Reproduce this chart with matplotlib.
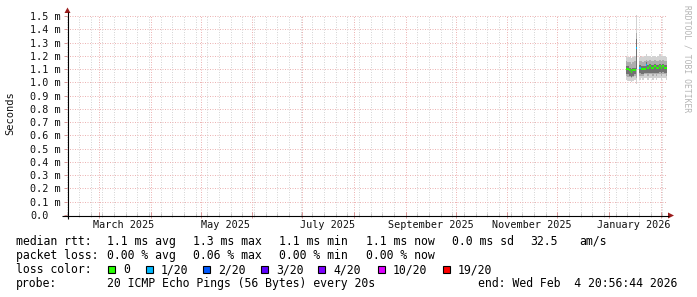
import matplotlib
matplotlib.use("Agg")
import matplotlib.pyplot as plt
import matplotlib.dates as mdates
import matplotlib.transforms as mtransforms
from matplotlib.ticker import NullFormatter
from matplotlib.patches import Rectangle, Polygon
import numpy as np
from datetime import datetime

# ---------------- data ----------------
days = ["2026-01-11", "2026-01-12", "2026-01-13", "2026-01-14", "2026-01-15",
        "2026-01-16", "2026-01-17", "2026-01-18", "2026-01-19", "2026-01-20",
        "2026-01-21", "2026-01-22", "2026-01-23", "2026-01-24", "2026-01-25",
        "2026-01-26", "2026-01-27", "2026-01-28", "2026-01-29", "2026-01-30",
        "2026-01-31", "2026-02-01", "2026-02-02", "2026-02-03", "2026-02-04"]
nan = float("nan")
median_ms = [1.10, 1.10, 1.09, 1.08, 1.09, 1.09, 1.26, nan, 1.11, 1.10,
             1.10, 1.10, 1.13, 1.11, 1.12, 1.11, 1.11, 1.12, 1.11, 1.11,
             1.12, 1.11, 1.12, 1.11, 1.11]
loss_20 = [0, 0, 0, 0, 0, 0, 1, 0, 1, 0, 0, 0, 1, 0, 0, 0, 0, 0, 0, 0, 0, 0, 0, 0, 0]
outer_lo = [1.02, 1.01, 1.01, 1.00, 1.01, 1.02, 0.99, nan, 1.02, 1.03,
            1.02, 1.03, 1.03, 1.02, 1.03, 1.03, 1.02, 1.03, 1.02, 1.03,
            1.03, 1.02, 1.03, 1.03, 1.02]
outer_hi = [1.20, 1.19, 1.19, 1.18, 1.19, 1.20, 1.51, nan, 1.19, 1.20,
            1.19, 1.20, 1.21, 1.20, 1.20, 1.19, 1.20, 1.20, 1.19, 1.20,
            1.21, 1.20, 1.20, 1.20, 1.19]
mid_lo = [1.05, 1.04, 1.04, 1.03, 1.04, 1.05, 1.03, nan, 1.05, 1.05,
          1.05, 1.06, 1.06, 1.05, 1.06, 1.06, 1.05, 1.06, 1.05, 1.06,
          1.06, 1.05, 1.06, 1.06, 1.05]
mid_hi = [1.16, 1.15, 1.15, 1.14, 1.15, 1.16, 1.37, nan, 1.16, 1.16,
          1.15, 1.16, 1.17, 1.16, 1.17, 1.16, 1.16, 1.17, 1.16, 1.16,
          1.17, 1.16, 1.17, 1.16, 1.16]
inner_lo = [1.06, 1.06, 1.05, 1.04, 1.05, 1.06, 1.10, nan, 1.07, 1.06,
            1.06, 1.07, 1.07, 1.07, 1.07, 1.07, 1.07, 1.07, 1.07, 1.07,
            1.08, 1.07, 1.08, 1.07, 1.07]
inner_hi = [1.12, 1.12, 1.11, 1.10, 1.11, 1.11, 1.33, nan, 1.13, 1.12,
            1.12, 1.12, 1.15, 1.13, 1.14, 1.13, 1.13, 1.14, 1.13, 1.13,
            1.14, 1.13, 1.14, 1.13, 1.13]

y_ticks_ms = [0.0, 0.1, 0.2, 0.3, 0.4, 0.5, 0.6, 0.7, 0.8, 0.9, 1.0, 1.1, 1.2, 1.3, 1.4, 1.5]
y_tick_labels = ["0.0", "0.1 m", "0.2 m", "0.3 m", "0.4 m", "0.5 m", "0.6 m", "0.7 m",
                 "0.8 m", "0.9 m", "1.0 m", "1.1 m", "1.2 m", "1.3 m", "1.4 m", "1.5 m"]
x_label_months = ["2025-03-16", "2025-05-16", "2025-07-16", "2025-09-16", "2025-11-16", "2026-01-16"]
x_label_texts = ["March 2025", "May 2025", "July 2025", "September 2025", "November 2025", "January 2026"]
end_time = "2026-02-04 20:56:44"
span_days = 360
y_label = "Seconds"
watermark = "RRDTOOL / TOBI OETIKER"

loss_levels = [0, 1, 2, 3, 4, 10, 19]
loss_labels = ["0", "1/20", "2/20", "3/20", "4/20", "10/20", "19/20"]
loss_colors = ["#26ff00", "#00b8ff", "#0059ff", "#5e00ff", "#7e00ff", "#dd00ff", "#ff0000"]

row_titles = ["median rtt:", "packet loss:", "loss color:", "probe:"]
stats_rtt = ["1.1 ms avg", "1.3 ms max", "1.1 ms min", "1.1 ms now", "0.0 ms sd", "32.5", "am/s"]
stats_loss = ["0.00 % avg", "0.06 % max", "0.00 % min", "0.00 % now"]
probe_text = "20 ICMP Echo Pings (56 Bytes) every 20s"
end_text = "end: Wed Feb  4 20:56:44 2026"

# ---------------- layout ----------------
W, H = 697, 297
PX0, PX1, PY0, PY1 = 67, 667, 15, 215
MONO = "DejaVu Sans Mono"
AX_FS = 7.3
LEG_FS = 8.3

fig = plt.figure(figsize=(W / 100, H / 100), dpi=100)
fig.patch.set_facecolor("white")
ax = fig.add_axes([PX0 / W, 1 - PY1 / H, (PX1 - PX0) / W, (PY1 - PY0) / H])
ax.set_facecolor("white")
ov = fig.add_axes([0, 0, 1, 1])
ov.set_xlim(0, W)
ov.set_ylim(H, 0)
ov.axis("off")
ov.patch.set_alpha(0)
ov.set_zorder(5)

t_end = mdates.date2num(datetime.strptime(end_time, "%Y-%m-%d %H:%M:%S"))
ax.set_xlim(t_end - span_days, t_end)
ax.set_ylim(0, 1.5 * 200 / 199)

# ---------------- smoke + median ----------------
x = np.array([mdates.datestr2num(d) for d in days])
layers = [(outer_lo, outer_hi, "#d2d2d2"),
          (mid_lo, mid_hi, "#adadad"),
          (inner_lo, inner_hi, "#727272")]
for lo, hi, col in layers:
    lo = np.array(lo); hi = np.array(hi)
    ok = ~np.isnan(lo)
    ax.bar(x[ok], (hi - lo)[ok], bottom=lo[ok], width=1.0, align="edge",
           color=col, linewidth=0, zorder=2)

cmap = dict(zip(loss_levels, loss_colors))
med = np.array(median_ms)
okm = ~np.isnan(med)
ax.hlines(med[okm], x[okm], x[okm] + 1, colors=[cmap[l] for l, o in zip(loss_20, okm) if o],
          linewidth=1.4, zorder=4)

# ---------------- grid / ticks ----------------
ax.xaxis.set_major_locator(mdates.MonthLocator())
ax.xaxis.set_minor_locator(mdates.WeekdayLocator(byweekday=mdates.MO))
ax.xaxis.set_major_formatter(NullFormatter())
ax.xaxis.set_minor_formatter(NullFormatter())
ax.set_yticks(y_ticks_ms)
ax.set_yticklabels(y_tick_labels, fontfamily=MONO, fontsize=AX_FS, color="#111111")
for lbl in ax.get_yticklabels():
    lbl.set_horizontalalignment("left")
ax.grid(which="major", axis="both", color="#ecb4b4", linestyle=(0, (1, 1.5)), linewidth=0.72)
ax.grid(which="minor", axis="x", color="#d6d6d6", linestyle=(0, (1, 1.5)), linewidth=0.72)
ax.set_axisbelow(True)
ax.tick_params(axis="y", which="major", direction="out", length=2.5, width=0.72,
               color="#d89a9a", pad=24.2)
ax.tick_params(axis="x", which="major", direction="inout", length=4, width=0.72, color="#d89a9a")
ax.tick_params(axis="x", which="minor", direction="inout", length=3, width=0.72, color="#c4c4c4")
for s in ax.spines.values():
    s.set_visible(False)

# x labels (centered mid-month)
bt = mtransforms.blended_transform_factory(ax.transData, ov.transData)
for m, t in zip(x_label_months, x_label_texts):
    ax.text(mdates.datestr2num(m), 228, t, transform=bt, ha="center", va="baseline",
            fontfamily=MONO, fontsize=AX_FS, color="#111111", clip_on=False)

# axis lines and arrows
ov.plot([62, 669], [215.5, 215.5], color="black", lw=0.8, solid_capstyle="butt")
ov.plot([67.5, 67.5], [219, 12], color="black", lw=0.8, solid_capstyle="butt")
ov.add_patch(Polygon([[668, 212.5], [674, 215.5], [668, 218.5]], closed=True,
                     facecolor="#9b1c1c", edgecolor="none"))
ov.add_patch(Polygon([[64.5, 13], [67.5, 7.5], [70.5, 13]], closed=True,
                     facecolor="#9b1c1c", edgecolor="none"))

# y label and watermark
ov.text(10.5, 113, y_label, rotation=90, ha="center", va="center",
        fontfamily=MONO, fontsize=7.5, color="#111111")
ov.text(687, 5, watermark, rotation=-90, ha="center", va="top",
        fontfamily=MONO, fontsize=5.8, color="#b4b4b4")

# ---------------- legend block ----------------
row_y = [245, 259, 273.3, 287.3]
col_x = [107.3, 193.3, 279.3, 366, 451.7, 530.7, 579.3]
for title, y in zip(row_titles, row_y):
    ov.text(16, y, title, ha="left", va="baseline", fontfamily=MONO, fontsize=LEG_FS, color="black")
for s, cx in zip(stats_rtt, col_x):
    ov.text(cx, row_y[0], s, ha="left", va="baseline", fontfamily=MONO, fontsize=LEG_FS, color="black")
for s, cx in zip(stats_loss, col_x):
    ov.text(cx, row_y[1], s, ha="left", va="baseline", fontfamily=MONO, fontsize=LEG_FS, color="black")
box_x = [108, 145.7, 203.3, 261, 318.3, 377.7, 442.7]
for bx, lab, col in zip(box_x, loss_labels, loss_colors):
    ov.add_patch(Rectangle((bx, 265.5), 7, 7.5, facecolor=col, edgecolor="black", lw=0.8))
    ov.text(bx + 15.3, row_y[2], lab, ha="left", va="baseline", fontfamily=MONO,
            fontsize=LEG_FS, color="black")
ov.text(107.3, row_y[3], probe_text, ha="left", va="baseline", fontfamily=MONO,
        fontsize=LEG_FS, color="black")
ov.text(478.3, row_y[3], end_text, ha="left", va="baseline", fontfamily=MONO,
        fontsize=LEG_FS, color="black")

fig.savefig("out.png", dpi=100, facecolor="white")
